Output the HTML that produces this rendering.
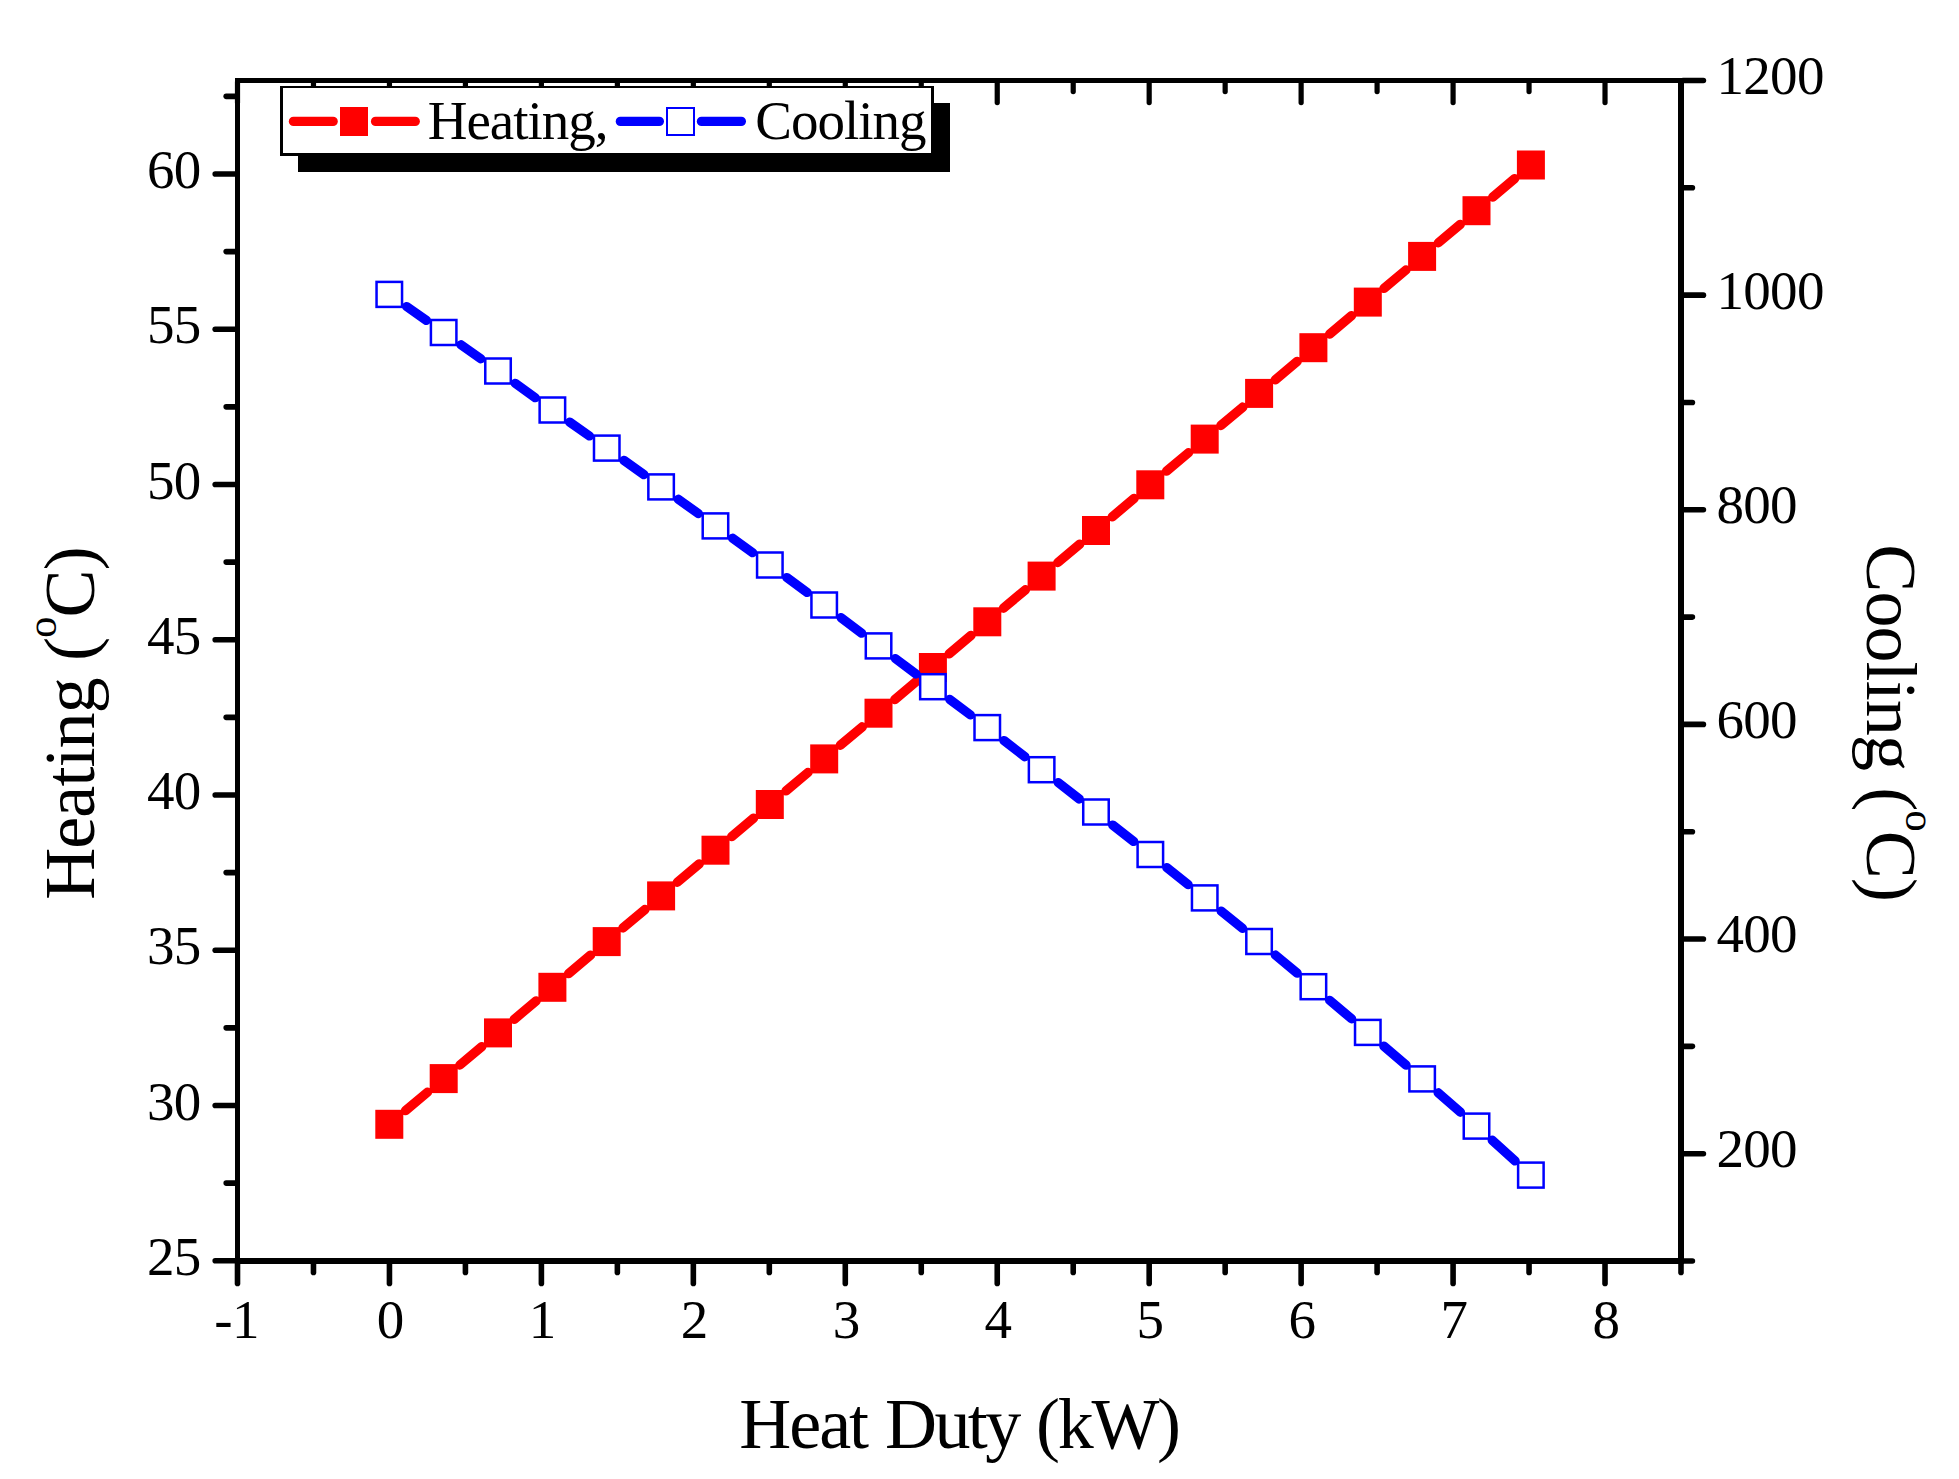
<!DOCTYPE html>
<html lang="en">
<head>
<meta charset="utf-8">
<title>Heating and Cooling vs Heat Duty</title>
<style>
html,body{margin:0;padding:0;background:#fff;}
body{width:1959px;height:1479px;overflow:hidden;}
svg{display:block;font-family:"Liberation Serif","Times New Roman",serif;}
text{font-kerning:none;}
</style>
</head>
<body>
<svg width="1959" height="1479" viewBox="0 0 1959 1479">
<rect x="0" y="0" width="1959" height="1479" fill="#fff"/>
<g shape-rendering="crispEdges">
<rect x="235.00" y="78.00" width="1449.00" height="5.00" fill="#000" />
<rect x="235.00" y="1258.00" width="1449.00" height="6.00" fill="#000" />
<rect x="235.00" y="78.00" width="5.00" height="1186.00" fill="#000" />
<rect x="1678.00" y="78.00" width="6.00" height="1186.00" fill="#000" />
</g>
<g stroke="#000" stroke-linecap="round">
<line x1="237.50" y1="1263.00" x2="237.50" y2="1283.40" stroke-width="5.6"/>
<line x1="237.50" y1="82.00" x2="237.50" y2="102.60" stroke-width="5.2"/>
<line x1="313.47" y1="1263.00" x2="313.47" y2="1272.40" stroke-width="5.6"/>
<line x1="313.47" y1="82.00" x2="313.47" y2="91.60" stroke-width="5.2"/>
<line x1="389.45" y1="1263.00" x2="389.45" y2="1283.40" stroke-width="5.6"/>
<line x1="389.45" y1="82.00" x2="389.45" y2="102.60" stroke-width="5.2"/>
<line x1="465.42" y1="1263.00" x2="465.42" y2="1272.40" stroke-width="5.6"/>
<line x1="465.42" y1="82.00" x2="465.42" y2="91.60" stroke-width="5.2"/>
<line x1="541.39" y1="1263.00" x2="541.39" y2="1283.40" stroke-width="5.6"/>
<line x1="541.39" y1="82.00" x2="541.39" y2="102.60" stroke-width="5.2"/>
<line x1="617.37" y1="1263.00" x2="617.37" y2="1272.40" stroke-width="5.6"/>
<line x1="617.37" y1="82.00" x2="617.37" y2="91.60" stroke-width="5.2"/>
<line x1="693.34" y1="1263.00" x2="693.34" y2="1283.40" stroke-width="5.6"/>
<line x1="693.34" y1="82.00" x2="693.34" y2="102.60" stroke-width="5.2"/>
<line x1="769.31" y1="1263.00" x2="769.31" y2="1272.40" stroke-width="5.6"/>
<line x1="769.31" y1="82.00" x2="769.31" y2="91.60" stroke-width="5.2"/>
<line x1="845.29" y1="1263.00" x2="845.29" y2="1283.40" stroke-width="5.6"/>
<line x1="845.29" y1="82.00" x2="845.29" y2="102.60" stroke-width="5.2"/>
<line x1="921.26" y1="1263.00" x2="921.26" y2="1272.40" stroke-width="5.6"/>
<line x1="921.26" y1="82.00" x2="921.26" y2="91.60" stroke-width="5.2"/>
<line x1="997.24" y1="1263.00" x2="997.24" y2="1283.40" stroke-width="5.6"/>
<line x1="997.24" y1="82.00" x2="997.24" y2="102.60" stroke-width="5.2"/>
<line x1="1073.21" y1="1263.00" x2="1073.21" y2="1272.40" stroke-width="5.6"/>
<line x1="1073.21" y1="82.00" x2="1073.21" y2="91.60" stroke-width="5.2"/>
<line x1="1149.18" y1="1263.00" x2="1149.18" y2="1283.40" stroke-width="5.6"/>
<line x1="1149.18" y1="82.00" x2="1149.18" y2="102.60" stroke-width="5.2"/>
<line x1="1225.16" y1="1263.00" x2="1225.16" y2="1272.40" stroke-width="5.6"/>
<line x1="1225.16" y1="82.00" x2="1225.16" y2="91.60" stroke-width="5.2"/>
<line x1="1301.13" y1="1263.00" x2="1301.13" y2="1283.40" stroke-width="5.6"/>
<line x1="1301.13" y1="82.00" x2="1301.13" y2="102.60" stroke-width="5.2"/>
<line x1="1377.10" y1="1263.00" x2="1377.10" y2="1272.40" stroke-width="5.6"/>
<line x1="1377.10" y1="82.00" x2="1377.10" y2="91.60" stroke-width="5.2"/>
<line x1="1453.08" y1="1263.00" x2="1453.08" y2="1283.40" stroke-width="5.6"/>
<line x1="1453.08" y1="82.00" x2="1453.08" y2="102.60" stroke-width="5.2"/>
<line x1="1529.05" y1="1263.00" x2="1529.05" y2="1272.40" stroke-width="5.6"/>
<line x1="1529.05" y1="82.00" x2="1529.05" y2="91.60" stroke-width="5.2"/>
<line x1="1605.02" y1="1263.00" x2="1605.02" y2="1283.40" stroke-width="5.6"/>
<line x1="1605.02" y1="82.00" x2="1605.02" y2="102.60" stroke-width="5.2"/>
<line x1="1681.00" y1="1263.00" x2="1681.00" y2="1272.40" stroke-width="5.6"/>
<line x1="1681.00" y1="82.00" x2="1681.00" y2="91.60" stroke-width="5.2"/>
<line x1="215.20" y1="1260.70" x2="236.00" y2="1260.70" stroke-width="5.6"/>
<line x1="226.20" y1="1183.08" x2="236.00" y2="1183.08" stroke-width="5.6"/>
<line x1="215.20" y1="1105.45" x2="236.00" y2="1105.45" stroke-width="5.6"/>
<line x1="226.20" y1="1027.83" x2="236.00" y2="1027.83" stroke-width="5.6"/>
<line x1="215.20" y1="950.20" x2="236.00" y2="950.20" stroke-width="5.6"/>
<line x1="226.20" y1="872.58" x2="236.00" y2="872.58" stroke-width="5.6"/>
<line x1="215.20" y1="794.95" x2="236.00" y2="794.95" stroke-width="5.6"/>
<line x1="226.20" y1="717.33" x2="236.00" y2="717.33" stroke-width="5.6"/>
<line x1="215.20" y1="639.70" x2="236.00" y2="639.70" stroke-width="5.6"/>
<line x1="226.20" y1="562.08" x2="236.00" y2="562.08" stroke-width="5.6"/>
<line x1="215.20" y1="484.45" x2="236.00" y2="484.45" stroke-width="5.6"/>
<line x1="226.20" y1="406.83" x2="236.00" y2="406.83" stroke-width="5.6"/>
<line x1="215.20" y1="329.20" x2="236.00" y2="329.20" stroke-width="5.6"/>
<line x1="226.20" y1="251.58" x2="236.00" y2="251.58" stroke-width="5.6"/>
<line x1="215.20" y1="173.95" x2="236.00" y2="173.95" stroke-width="5.6"/>
<line x1="226.20" y1="96.33" x2="236.00" y2="96.33" stroke-width="5.6"/>
<line x1="1683.00" y1="1261.00" x2="1692.40" y2="1261.00" stroke-width="5.6"/>
<line x1="1683.00" y1="1153.68" x2="1703.40" y2="1153.68" stroke-width="5.6"/>
<line x1="1683.00" y1="1046.36" x2="1692.40" y2="1046.36" stroke-width="5.6"/>
<line x1="1683.00" y1="939.05" x2="1703.40" y2="939.05" stroke-width="5.6"/>
<line x1="1683.00" y1="831.73" x2="1692.40" y2="831.73" stroke-width="5.6"/>
<line x1="1683.00" y1="724.41" x2="1703.40" y2="724.41" stroke-width="5.6"/>
<line x1="1683.00" y1="617.09" x2="1692.40" y2="617.09" stroke-width="5.6"/>
<line x1="1683.00" y1="509.77" x2="1703.40" y2="509.77" stroke-width="5.6"/>
<line x1="1683.00" y1="402.46" x2="1692.40" y2="402.46" stroke-width="5.6"/>
<line x1="1683.00" y1="295.14" x2="1703.40" y2="295.14" stroke-width="5.6"/>
<line x1="1683.00" y1="187.82" x2="1692.40" y2="187.82" stroke-width="5.6"/>
<line x1="1683.00" y1="80.50" x2="1703.40" y2="80.50" stroke-width="5.6"/>
</g>
<g font-size="55" fill="#000" letter-spacing="-0.7">
<text x="200.5" y="1274.90" text-anchor="end">25</text>
<text x="200.5" y="1119.65" text-anchor="end">30</text>
<text x="200.5" y="964.40" text-anchor="end">35</text>
<text x="200.5" y="809.15" text-anchor="end">40</text>
<text x="200.5" y="653.90" text-anchor="end">45</text>
<text x="200.5" y="498.65" text-anchor="end">50</text>
<text x="200.5" y="343.40" text-anchor="end">55</text>
<text x="200.5" y="188.15" text-anchor="end">60</text>
<text x="236.50" y="1338" text-anchor="middle">-1</text>
<text x="390.25" y="1338" text-anchor="middle">0</text>
<text x="542.19" y="1338" text-anchor="middle">1</text>
<text x="694.14" y="1338" text-anchor="middle">2</text>
<text x="846.09" y="1338" text-anchor="middle">3</text>
<text x="998.03" y="1338" text-anchor="middle">4</text>
<text x="1149.98" y="1338" text-anchor="middle">5</text>
<text x="1301.93" y="1338" text-anchor="middle">6</text>
<text x="1453.88" y="1338" text-anchor="middle">7</text>
<text x="1605.82" y="1338" text-anchor="middle">8</text>
<text x="1716.5" y="1167.08">200</text>
<text x="1716.5" y="952.45">400</text>
<text x="1716.5" y="737.81">600</text>
<text x="1716.5" y="523.17">800</text>
<text x="1716.5" y="308.54">1000</text>
<text x="1716.5" y="93.90">1200</text>
</g>
<g stroke="#ff0000" stroke-width="9.4" stroke-linecap="round">
<line x1="405.53" y1="1110.66" x2="427.43" y2="1092.26"/>
<line x1="459.89" y1="1064.98" x2="481.79" y2="1046.58"/>
<line x1="514.25" y1="1019.30" x2="536.15" y2="1000.90"/>
<line x1="568.61" y1="973.62" x2="590.51" y2="955.22"/>
<line x1="622.97" y1="927.94" x2="644.87" y2="909.54"/>
<line x1="677.33" y1="882.26" x2="699.23" y2="863.86"/>
<line x1="731.69" y1="836.58" x2="753.59" y2="818.18"/>
<line x1="786.05" y1="790.90" x2="807.95" y2="772.50"/>
<line x1="840.41" y1="745.22" x2="862.31" y2="726.82"/>
<line x1="894.77" y1="699.54" x2="916.67" y2="681.14"/>
<line x1="949.13" y1="653.86" x2="971.03" y2="635.46"/>
<line x1="1003.49" y1="608.18" x2="1025.39" y2="589.78"/>
<line x1="1057.85" y1="562.50" x2="1079.75" y2="544.10"/>
<line x1="1112.21" y1="516.82" x2="1134.11" y2="498.42"/>
<line x1="1166.57" y1="471.14" x2="1188.47" y2="452.74"/>
<line x1="1220.93" y1="425.46" x2="1242.83" y2="407.06"/>
<line x1="1275.29" y1="379.78" x2="1297.19" y2="361.38"/>
<line x1="1329.65" y1="334.10" x2="1351.55" y2="315.70"/>
<line x1="1384.01" y1="288.42" x2="1405.91" y2="270.02"/>
<line x1="1438.37" y1="242.74" x2="1460.27" y2="224.34"/>
<line x1="1492.73" y1="197.06" x2="1514.63" y2="178.66"/>
</g>
<g>
<rect x="375.3" y="1109.8" width="28" height="29" fill="#ff0000"/>
<rect x="429.7" y="1064.1" width="28" height="29" fill="#ff0000"/>
<rect x="484.0" y="1018.4" width="28" height="29" fill="#ff0000"/>
<rect x="538.4" y="972.8" width="28" height="29" fill="#ff0000"/>
<rect x="592.7" y="927.1" width="28" height="29" fill="#ff0000"/>
<rect x="647.1" y="881.4" width="28" height="29" fill="#ff0000"/>
<rect x="701.5" y="835.7" width="28" height="29" fill="#ff0000"/>
<rect x="755.8" y="790.0" width="28" height="29" fill="#ff0000"/>
<rect x="810.2" y="744.4" width="28" height="29" fill="#ff0000"/>
<rect x="864.5" y="698.7" width="28" height="29" fill="#ff0000"/>
<rect x="918.9" y="653.0" width="28" height="29" fill="#ff0000"/>
<rect x="973.3" y="607.3" width="28" height="29" fill="#ff0000"/>
<rect x="1027.6" y="561.6" width="28" height="29" fill="#ff0000"/>
<rect x="1082.0" y="516.0" width="28" height="29" fill="#ff0000"/>
<rect x="1136.3" y="470.3" width="28" height="29" fill="#ff0000"/>
<rect x="1190.7" y="424.6" width="28" height="29" fill="#ff0000"/>
<rect x="1245.1" y="378.9" width="28" height="29" fill="#ff0000"/>
<rect x="1299.4" y="333.2" width="28" height="29" fill="#ff0000"/>
<rect x="1353.8" y="287.6" width="28" height="29" fill="#ff0000"/>
<rect x="1408.1" y="241.9" width="28" height="29" fill="#ff0000"/>
<rect x="1462.5" y="196.2" width="28" height="29" fill="#ff0000"/>
<rect x="1516.9" y="150.5" width="28" height="29" fill="#ff0000"/>
</g>
<g stroke="#0000ff" stroke-width="9.3" stroke-linecap="round">
<line x1="406.62" y1="306.54" x2="426.34" y2="320.36"/>
<line x1="460.92" y1="344.72" x2="480.76" y2="358.78"/>
<line x1="515.20" y1="383.33" x2="535.20" y2="397.67"/>
<line x1="569.70" y1="422.14" x2="589.42" y2="435.96"/>
<line x1="623.95" y1="460.39" x2="643.89" y2="474.61"/>
<line x1="678.28" y1="499.23" x2="698.28" y2="513.57"/>
<line x1="732.63" y1="538.25" x2="752.65" y2="552.65"/>
<line x1="786.86" y1="577.54" x2="807.14" y2="592.46"/>
<line x1="841.08" y1="617.72" x2="861.64" y2="633.18"/>
<line x1="895.46" y1="658.60" x2="915.98" y2="674.00"/>
<line x1="949.80" y1="699.42" x2="970.36" y2="714.88"/>
<line x1="1003.98" y1="740.55" x2="1024.90" y2="756.75"/>
<line x1="1058.31" y1="782.69" x2="1079.29" y2="799.01"/>
<line x1="1112.64" y1="825.03" x2="1133.68" y2="841.47"/>
<line x1="1166.87" y1="867.70" x2="1188.17" y2="884.70"/>
<line x1="1221.20" y1="911.13" x2="1242.56" y2="928.27"/>
<line x1="1275.32" y1="955.02" x2="1297.16" y2="973.18"/>
<line x1="1329.61" y1="1000.31" x2="1351.59" y2="1018.79"/>
<line x1="1383.85" y1="1046.15" x2="1406.07" y2="1065.15"/>
<line x1="1438.11" y1="1092.77" x2="1460.53" y2="1112.23"/>
<line x1="1492.21" y1="1140.26" x2="1515.15" y2="1160.94"/>
</g>
<g>
<rect x="376.55" y="281.90" width="25.5" height="25" fill="#fff" stroke="#0000ff" stroke-width="2.5"/>
<rect x="430.91" y="320.00" width="25.5" height="25" fill="#fff" stroke="#0000ff" stroke-width="2.5"/>
<rect x="485.27" y="358.50" width="25.5" height="25" fill="#fff" stroke="#0000ff" stroke-width="2.5"/>
<rect x="539.63" y="397.50" width="25.5" height="25" fill="#fff" stroke="#0000ff" stroke-width="2.5"/>
<rect x="593.99" y="435.60" width="25.5" height="25" fill="#fff" stroke="#0000ff" stroke-width="2.5"/>
<rect x="648.35" y="474.40" width="25.5" height="25" fill="#fff" stroke="#0000ff" stroke-width="2.5"/>
<rect x="702.71" y="513.40" width="25.5" height="25" fill="#fff" stroke="#0000ff" stroke-width="2.5"/>
<rect x="757.07" y="552.50" width="25.5" height="25" fill="#fff" stroke="#0000ff" stroke-width="2.5"/>
<rect x="811.43" y="592.50" width="25.5" height="25" fill="#fff" stroke="#0000ff" stroke-width="2.5"/>
<rect x="865.79" y="633.40" width="25.5" height="25" fill="#fff" stroke="#0000ff" stroke-width="2.5"/>
<rect x="920.15" y="674.20" width="25.5" height="25" fill="#fff" stroke="#0000ff" stroke-width="2.5"/>
<rect x="974.51" y="715.10" width="25.5" height="25" fill="#fff" stroke="#0000ff" stroke-width="2.5"/>
<rect x="1028.87" y="757.20" width="25.5" height="25" fill="#fff" stroke="#0000ff" stroke-width="2.5"/>
<rect x="1083.23" y="799.50" width="25.5" height="25" fill="#fff" stroke="#0000ff" stroke-width="2.5"/>
<rect x="1137.59" y="842.00" width="25.5" height="25" fill="#fff" stroke="#0000ff" stroke-width="2.5"/>
<rect x="1191.95" y="885.40" width="25.5" height="25" fill="#fff" stroke="#0000ff" stroke-width="2.5"/>
<rect x="1246.31" y="929.00" width="25.5" height="25" fill="#fff" stroke="#0000ff" stroke-width="2.5"/>
<rect x="1300.67" y="974.20" width="25.5" height="25" fill="#fff" stroke="#0000ff" stroke-width="2.5"/>
<rect x="1355.03" y="1019.90" width="25.5" height="25" fill="#fff" stroke="#0000ff" stroke-width="2.5"/>
<rect x="1409.39" y="1066.40" width="25.5" height="25" fill="#fff" stroke="#0000ff" stroke-width="2.5"/>
<rect x="1463.75" y="1113.60" width="25.5" height="25" fill="#fff" stroke="#0000ff" stroke-width="2.5"/>
<rect x="1518.11" y="1162.60" width="25.5" height="25" fill="#fff" stroke="#0000ff" stroke-width="2.5"/>
</g>
<g shape-rendering="crispEdges">
<rect x="298.00" y="103.00" width="652.00" height="69.00" fill="#000" />
<rect x="280.00" y="86.00" width="654.00" height="70.00" fill="#000" />
<rect x="283.00" y="88.00" width="648.00" height="65.00" fill="#fff" />
</g>
<g stroke-linecap="round" stroke-width="9.4">
<line x1="293.5" y1="121.4" x2="333.1" y2="121.4" stroke="#ff0000"/>
<line x1="375.6" y1="121.4" x2="415.2" y2="121.4" stroke="#ff0000"/>
<line x1="620.4" y1="121.4" x2="659.3" y2="121.4" stroke="#0000ff"/>
<line x1="701.5" y1="121.4" x2="741.3" y2="121.4" stroke="#0000ff"/>
</g>
<g shape-rendering="crispEdges">
<rect x="340" y="107" width="28" height="29" fill="#ff0000"/>
<rect x="667" y="108" width="27" height="27" fill="#fff" stroke="#0000ff" stroke-width="2"/>
</g>
<text x="427.7" y="139" font-size="55" letter-spacing="-1">Heating,</text>
<text x="755.3" y="139" font-size="55" letter-spacing="-1">Cooling</text>
<text y="1447.5" font-size="72" letter-spacing="-2"><tspan x="739.2">Heat </tspan><tspan x="885" letter-spacing="-2.6">Duty </tspan><tspan x="1036" letter-spacing="-2.3">(kW)</tspan></text>
<g transform="translate(94,899.8) rotate(-90)"><text x="0" y="0" font-size="72" letter-spacing="-0.9">Heating (<tspan font-size="43" dy="-38.5">o</tspan><tspan dy="38.5">C)</tspan></text></g>
<g transform="translate(1867,544.3) rotate(90)"><text x="0" y="0" font-size="72" letter-spacing="-0.9">Cooling (<tspan font-size="43" dy="-38.5">o</tspan><tspan dy="38.5">C)</tspan></text></g>
</svg>
</body>
</html>
